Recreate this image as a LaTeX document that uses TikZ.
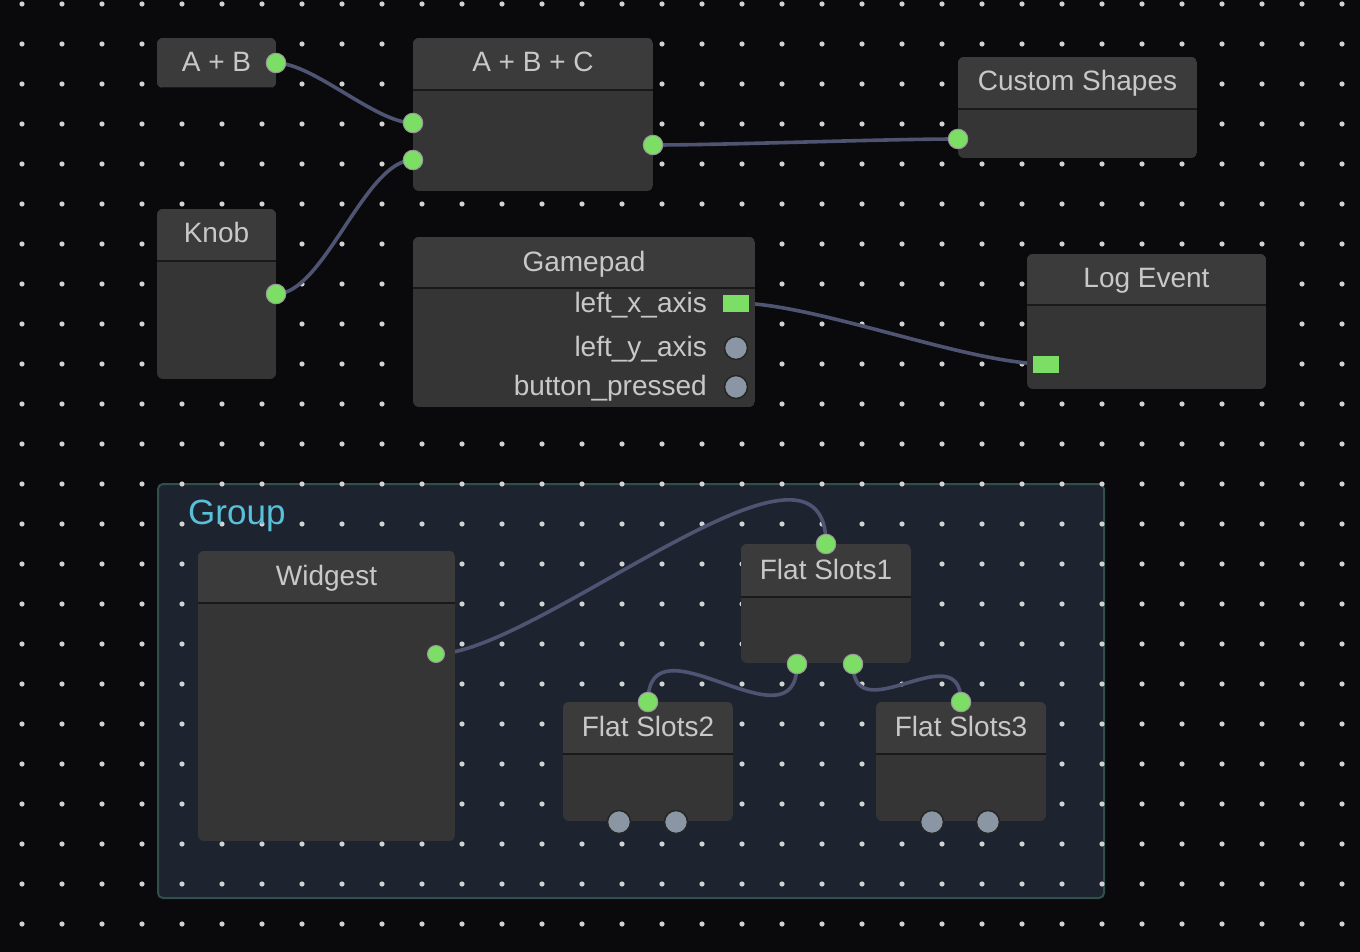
\documentclass[tikz,border=0pt]{standalone}
\usepackage{fontspec}
\setmainfont{Liberation Sans}
\usetikzlibrary{fit}
\definecolor{bg}{HTML}{0A0A0C}
\definecolor{dotc}{HTML}{D2D2D2}
\definecolor{nodebg}{HTML}{353535}
\definecolor{titlebg}{HTML}{3B3B3B}
\definecolor{txt}{HTML}{C8C8C8}
\definecolor{slotg}{HTML}{7DDE66}
\definecolor{slotring}{HTML}{9A9A9A}
\definecolor{slotgray}{HTML}{8A96A4}
\definecolor{linkc}{HTML}{4F5473}
\definecolor{groupbg}{HTML}{1E2330}
\definecolor{groupline}{HTML}{30504C}
\definecolor{grouptxt}{HTML}{58C0D8}
\pgfdeclarelayer{back}
\pgfdeclarelayer{links}
\pgfsetlayers{back,links,main}
\tikzset{
  titletext/.style={text=txt, font=\fontsize{28}{32}\selectfont, inner sep=0pt, anchor=base},
  slotlabel/.style={text=txt, font=\fontsize{28}{32}\selectfont, inner sep=0pt, anchor=base east},
  gslot/.style={circle, fill=slotg, draw=slotring, line width=1pt, minimum size=19.5pt, inner sep=0pt},
  grayslot/.style={circle, fill=slotgray, draw=black!85, line width=1.5pt, minimum size=23pt, inner sep=0pt},
  sqslot/.style={rectangle, fill=slotg, minimum width=26pt, minimum height=17pt, inner sep=0pt},
  link/.style={draw=linkc, line width=3.6pt},
  sepline/.style={draw=black!90, line width=2pt},
}
% #1 name, #2 x1, #3 y1, #4 x2, #5 y2, #6 separator y, #7 title, #8 title baseline
\newcommand\gnode[8]{%
  \begin{scope}
    \clip[rounded corners=6pt] (#2,#3) rectangle (#4,#5);
    \fill[nodebg] (#2,#3) rectangle (#4,#5);
    \fill[titlebg] (#2,#3) rectangle (#4,#6);
    \draw[sepline] (#2,#6) -- (#4,#6);
  \end{scope}
  \node[fit={(#2,#3) (#4,#5)}, inner sep=0pt] (#1) {};
  \node[titletext] (#1title) at ({(#2+#4)/2},#8) {#7};
}
\begin{document}
\begin{tikzpicture}[x=1pt,y=-1pt]
\useasboundingbox (0,0) rectangle (1360,952);
\begin{pgfonlayer}{back}
  \fill[bg] (0,0) rectangle (1360,952);
  \draw[groupline, fill=groupbg, rounded corners=5pt, line width=2pt] (158,484) rectangle (1104,898);
  \foreach \i in {0,...,33} {
    \foreach \j in {0,...,23} {
      \fill[dotc] ({22+40*\i},{4+40*\j}) circle (2.6pt);
    }
  }
  \node[fit={(158,484) (1104,898)}, inner sep=0pt] (group) {};
  \node[text=grouptxt, font=\fontsize{35}{40}\selectfont, inner sep=0pt, anchor=base west] (grouptitle) at (188,524) {Group};
\end{pgfonlayer}

% nodes
\gnode{ab}{157}{38}{276}{88}{88}{A + B}{72}
\gnode{abc}{413}{38}{653}{191}{90}{A + B + C}{72}
\gnode{cs}{958}{57}{1197}{158}{109}{Custom Shapes}{91}
\gnode{knob}{157}{209}{276}{379}{261}{Knob}{243}
\gnode{gp}{413}{237}{755}{407}{288}{Gamepad}{271}
\gnode{le}{1027}{254}{1266}{389}{305}{Log Event}{287}
\gnode{wid}{198}{551}{455}{841}{603}{Widgest}{585}
\gnode{fsa}{741}{544}{911}{663}{597}{Flat Slots1}{579}
\gnode{fsb}{563}{702}{733}{821}{754}{Flat Slots2}{736}
\gnode{fsc}{876}{702}{1046}{821}{754}{Flat Slots3}{736}

% slot labels
\node[slotlabel] (lxl) at (707,312) {left\_x\_axis};
\node[slotlabel] (lyl) at (707,356) {left\_y\_axis};
\node[slotlabel] (bpl) at (707,395) {button\_pressed};

% slots
\node[gslot] (abOut) at (276,63) {};
\node[gslot] (abcIn1) at (413,123) {};
\node[gslot] (abcIn2) at (413,160) {};
\node[gslot] (abcOut) at (653,145) {};
\node[gslot] (csIn) at (958,139) {};
\node[gslot] (knobOut) at (276,294) {};
\node[sqslot] (gpX) at (736,303) {};
\node[grayslot] (gpY) at (736,348) {};
\node[grayslot] (gpB) at (736,387) {};
\node[sqslot] (leIn) at (1046,364) {};
\node[gslot, minimum size=17pt] (wOut) at (436,654) {};
\node[gslot] (fs1In) at (826,544) {};
\node[gslot] (fs1OutA) at (797,664) {};
\node[gslot] (fs1OutB) at (853,664) {};
\node[gslot] (fs2In) at (648,702) {};
\node[grayslot] (fs2OutA) at (619,822) {};
\node[grayslot] (fs2OutB) at (676,822) {};
\node[gslot] (fs3In) at (961,702) {};
\node[grayslot] (fs3OutA) at (932,822) {};
\node[grayslot] (fs3OutB) at (988,822) {};

% links
\begin{pgfonlayer}{links}
  \draw[link] (abOut.center) .. controls +(37,0) and +(-37,0) .. (abcIn1.center);
  \draw[link] (knobOut.center) .. controls +(48,0) and +(-48,0) .. (abcIn2.center);
  \draw[link] (abcOut.center) .. controls +(76,0) and +(-76,0) .. (csIn.center);
  \draw[link] (gpX.center) .. controls +(79,0) and +(-79,0) .. (leIn.center);
  \draw[link] (wOut.center) .. controls +(101,0) and +(0,-144) .. (fs1In.center);
  \draw[link] (fs1OutA.center) .. controls +(0,90) and +(0,-90) .. (fs2In.center);
  \draw[link] (fs1OutB.center) .. controls +(0,70) and +(0,-70) .. (fs3In.center);
\end{pgfonlayer}
\end{tikzpicture}
\end{document}
